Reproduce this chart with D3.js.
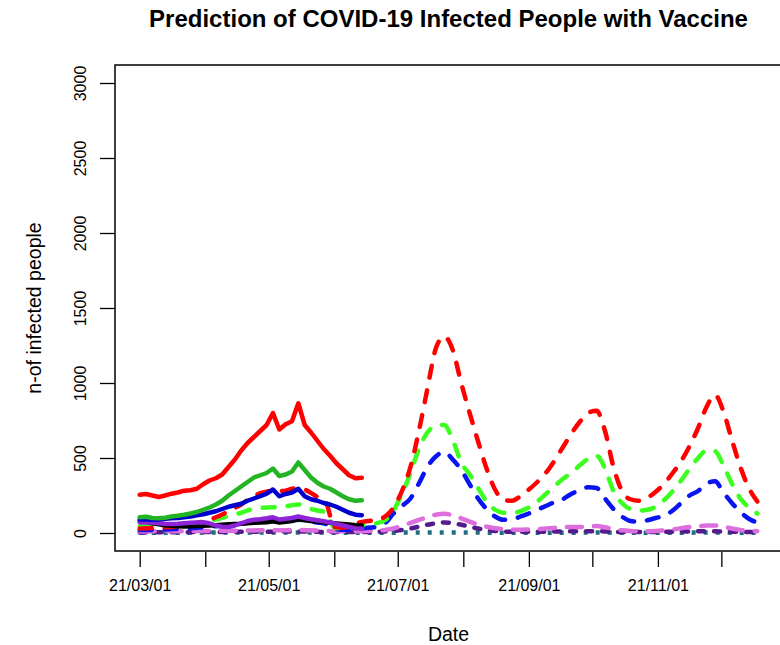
<!DOCTYPE html>
<html>
<head>
<meta charset="utf-8">
<script src="https://cdn.jsdelivr.net/npm/d3@7"></script>
<style>
  html, body { margin: 0; padding: 0; background: #fff; }
  svg { display: block; font-family: "Liberation Sans", Arial, Helvetica, sans-serif; }
</style>
</head>
<body>
<svg id="chart" width="780" height="645"></svg>
<script>
// ---- data ----------------------------------------------------------------
const startDate = "2021-03-01";

// observed period, day offsets from startDate
const obsDays = [0,3,6,9,12,15,18,21,24,27,30,33,36,39,42,45,48,51,54,57,60,63,66,69,72,75,78,81,84,87,90,93,96,99,102,105];

const obsRed    = [255,260,250,240,250,262,270,282,285,295,325,350,365,390,440,490,550,600,640,680,720,800,690,725,745,865,720,670,615,560,515,465,425,385,365,368];
const obsGreen  = [105,108,100,98,102,110,115,122,130,140,155,170,190,215,250,280,310,340,370,385,400,430,380,390,410,470,420,370,335,310,295,270,245,225,215,218];
const obsBlue   = [90,92,88,90,95,98,100,105,110,118,125,135,145,160,175,185,195,215,230,245,262,290,245,260,270,295,245,225,215,200,190,175,155,135,122,118];
const obsBlack  = [80,75,65,58,52,48,45,44,45,46,48,50,52,55,58,60,62,65,68,70,72,78,70,75,80,92,85,80,76,72,68,64,60,56,52,50];
const obsPurple = [70,72,68,65,62,60,62,65,68,70,72,65,50,42,40,50,65,80,88,92,98,105,90,95,100,110,100,92,85,78,70,60,50,40,32,28];

// model with vaccine, day offsets from startDate
const modelDays = [0,4,8,12,16,20,24,28,32,36,40,44,48,52,56,60,64,68,72,76,80,84,88,92,96,100,104,108,112,116,120,124,128,132,136,140,144,148,152,156,160,164,168,172,176,180,184,188,192,196,200,204,208,212,216,220,224,228,232,236,240,244,248,252,256,260,264,268,272,276,280,284,288,292];

const modelRed    = [30,32,35,38,42,48,58,70,85,105,130,160,190,230,260,275,285,280,295,300,275,240,205,40,35,50,70,80,85,110,170,280,440,680,960,1230,1310,1220,1000,800,610,430,290,220,215,245,290,340,400,480,570,660,740,800,815,680,440,280,225,215,235,275,330,400,480,580,700,840,920,810,620,440,300,210];
const modelGreen  = [45,45,48,50,52,55,60,68,78,90,105,120,135,155,165,170,172,175,185,190,165,150,140,35,30,38,48,58,65,85,150,260,400,560,670,715,720,620,470,390,300,210,155,135,135,145,170,210,260,310,360,400,450,495,515,430,280,200,160,150,155,175,220,280,350,430,500,550,545,450,330,230,170,130];
const modelBlue   = [20,20,22,24,26,28,32,36,40,45,50,56,62,70,75,78,80,82,85,88,80,70,60,25,22,25,30,35,40,65,130,180,230,330,440,510,540,490,420,325,230,160,110,88,90,110,130,155,180,205,225,260,285,305,300,230,160,110,80,75,85,100,115,150,200,250,280,330,345,270,200,140,95,70];
const modelViolet = [10,10,12,12,12,12,12,14,14,14,15,15,16,16,18,18,18,18,20,20,18,16,14,12,12,12,12,14,16,20,30,48,67,88,105,122,128,118,98,76,56,42,32,26,22,22,24,26,30,34,38,40,40,44,46,38,26,18,14,12,12,14,18,24,32,40,44,50,50,42,30,20,15,12];
const modelIndigo = [4,4,5,5,5,5,6,6,6,7,7,8,8,8,9,9,9,10,10,10,9,8,7,6,6,6,6,7,8,10,14,20,30,42,55,65,70,66,55,42,30,20,14,10,8,8,8,8,9,10,10,11,12,12,12,10,8,7,6,6,6,7,8,9,10,11,12,12,11,10,9,8,7,6];
const modelTeal   = [2,2,2,2,2,2,2,2,3,3,3,3,3,3,3,3,3,3,3,3,3,3,2,2,2,2,2,2,2,2,2,3,3,3,3,3,3,3,3,3,3,2,2,2,2,2,2,2,2,2,2,2,2,3,3,3,2,2,2,2,2,2,2,2,2,2,3,3,3,3,2,2,2,2];

const tickDates  = ["2021-03-01","2021-04-01","2021-05-01","2021-06-01","2021-07-01","2021-08-01","2021-09-01","2021-10-01","2021-11-01","2021-12-01"];
const labelDates = ["2021-03-01","2021-05-01","2021-07-01","2021-09-01","2021-11-01"];
const yTicks = [0,500,1000,1500,2000,2500,3000];

// ---- layout --------------------------------------------------------------
const svg = d3.select("#chart");
const box = { left: 115, top: 65, right: 782, bottom: 551 };

const parse = d3.utcParse("%Y-%m-%d");
const t0 = parse(startDate);
const toDate = d => d3.utcDay.offset(t0, d);

// 4% padding on both axes
const xExtent = [toDate(d3.min(modelDays)), toDate(d3.max(modelDays))];
const span = xExtent[1] - xExtent[0];
const x = d3.scaleUtc()
  .domain([new Date(+xExtent[0] - span * 0.04), new Date(+xExtent[1] + span * 0.04)])
  .range([box.left, box.right]);
const y = d3.scaleLinear()
  .domain([0 - 3000 * 0.04, 3000 * 1.04])
  .range([box.bottom, box.top]);

svg.append("clipPath").attr("id", "plotClip")
  .append("rect").attr("x", box.left).attr("y", box.top)
  .attr("width", box.right - box.left).attr("height", box.bottom - box.top);

const plot = svg.append("g").attr("clip-path", "url(#plotClip)");

function drawSeries(days, values, color, width, dash, cap, curve) {
  const pts = days.map((d, i) => [toDate(d), values[i]]);
  const line = d3.line().x(p => x(p[0])).y(p => y(p[1])).curve(curve);
  plot.append("path")
    .datum(pts)
    .attr("d", line)
    .attr("fill", "none")
    .attr("stroke", color)
    .attr("stroke-width", width)
    .attr("stroke-dasharray", dash)
    .attr("stroke-linecap", cap)
    .attr("stroke-linejoin", "round");
}

const smooth = d3.curveMonotoneX;
const rough = d3.curveLinear;
const lw = 4.5;

// model curves
drawSeries(modelDays, modelTeal,   "#1f6e80", lw, "4,8",   "butt",  smooth);
drawSeries(modelDays, modelIndigo, "#551a8b", lw, "6,10",  "round", smooth);
drawSeries(modelDays, modelViolet, "#dd6edd", lw, "15,12", "round", smooth);
drawSeries(modelDays, modelBlue,   "#0a14f0", lw, "12,13", "round", smooth);
drawSeries(modelDays, modelGreen,  "#3cff20", lw, "12,13", "round", smooth);
drawSeries(modelDays, modelRed,    "#ff0000", lw, "12,13", "round", smooth);

// observed curves
drawSeries(obsDays, obsBlack,  "#000000", lw, null, "round", rough);
drawSeries(obsDays, obsPurple, "#8e24d8", lw, null, "round", rough);
drawSeries(obsDays, obsBlue,   "#0000cd", lw, null, "round", rough);
drawSeries(obsDays, obsGreen,  "#22b422", lw, null, "round", rough);
drawSeries(obsDays, obsRed,    "#ff0000", lw, null, "round", rough);

// frame
svg.append("rect")
  .attr("x", box.left).attr("y", box.top)
  .attr("width", box.right - box.left).attr("height", box.bottom - box.top)
  .attr("fill", "none").attr("stroke", "#000").attr("stroke-width", 1.5);

// x axis
const fmt = d3.utcFormat("%y/%m/%d");
const labelSet = new Set(labelDates);
const xAxis = d3.axisBottom(x)
  .tickValues(tickDates.map(parse))
  .tickSize(15)
  .tickPadding(13)
  .tickFormat(d => labelSet.has(d3.utcFormat("%Y-%m-%d")(d)) ? fmt(d) : "");
const gx = svg.append("g").attr("transform", `translate(0,${box.bottom + 1})`).call(xAxis);
gx.select(".domain").remove();
gx.selectAll(".tick line").attr("stroke", "#000").attr("stroke-width", 1.3);
gx.selectAll(".tick text").attr("font-size", 16).attr("fill", "#000")
  .attr("font-family", "Liberation Sans, Arial, sans-serif");

// y axis
const yAxis = d3.axisLeft(y).tickValues(yTicks).tickSize(15).tickFormat(d3.format("d"));
const gy = svg.append("g").attr("transform", `translate(${box.left},0)`).call(yAxis);
gy.select(".domain").remove();
gy.selectAll(".tick line").attr("stroke", "#000").attr("stroke-width", 1.3);
gy.selectAll(".tick text")
  .attr("font-size", 16).attr("fill", "#000")
  .attr("font-family", "Liberation Sans, Arial, sans-serif")
  .attr("x", null)
  .attr("text-anchor", "middle")
  .attr("transform", "translate(-35,0) rotate(-90)")
  .attr("dy", "0.35em");

// titles
svg.append("text")
  .attr("x", 448.5).attr("y", 27)
  .attr("text-anchor", "middle")
  .attr("font-size", 24).attr("font-weight", "bold")
  .text("Prediction of COVID-19 Infected People with Vaccine");

svg.append("text")
  .attr("x", 448.5).attr("y", 641)
  .attr("text-anchor", "middle")
  .attr("font-size", 19.5)
  .text("Date");

svg.append("text")
  .attr("transform", "translate(41,308) rotate(-90)")
  .attr("text-anchor", "middle")
  .attr("font-size", 19.5)
  .text("n-of infected people");
</script>
</body>
</html>
